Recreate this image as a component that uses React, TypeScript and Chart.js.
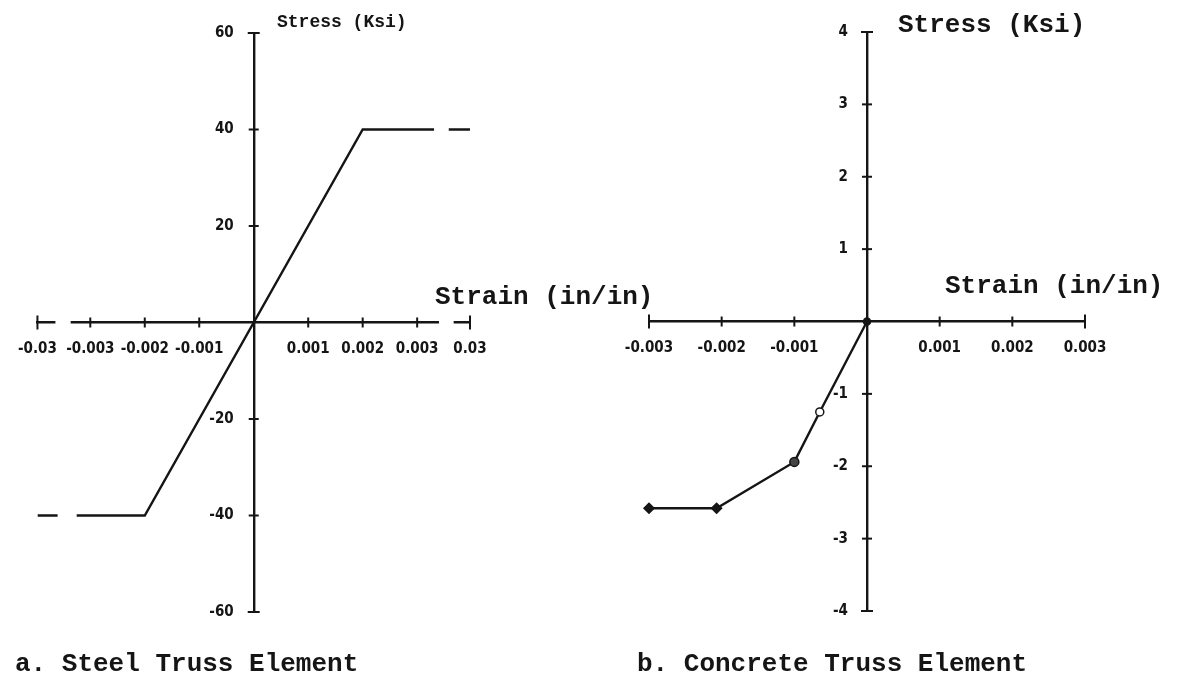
import React, { useEffect, useRef } from "react";
import { Chart, registerables } from "chart.js";
Chart.register(...registerables);

// ---------- Panel a: Steel truss element ----------
const steelStrain = [-0.03, -0.002, 0.002, 0.03];
const steelStress = [-40, -40, 40, 40];
const steelXTicks = [-0.03, -0.003, -0.002, -0.001, 0, 0.001, 0.002, 0.003, 0.03];
const steelXTickLabels = ["-0.03", "-0.003", "-0.002", "-0.001", "", "0.001", "0.002", "0.003", "0.03"];
const steelYTicks = [-60, -40, -20, 0, 20, 40, 60];
const steelYTickLabels = ["-60", "-40", "-20", "", "20", "40", "60"];

// ---------- Panel b: Concrete truss element ----------
const concreteStrain = [-0.003, -0.00207, -0.001, -0.00065, 0];
const concreteStress = [-2.58, -2.58, -1.94, -1.25, 0];
const concreteXTicks = [-0.003, -0.002, -0.001, 0, 0.001, 0.002, 0.003];
const concreteXTickLabels = ["-0.003", "-0.002", "-0.001", "", "0.001", "0.002", "0.003"];
const concreteYTicks = [-4, -3, -2, -1, 0, 1, 2, 3, 4];
const concreteYTickLabels = ["-4", "-3", "-2", "-1", "", "1", "2", "3", "4"];

// broken strain axis of panel a: +-0.03 drawn just beyond +-0.003
const BREAK_POS = 0.00397;
const toAxis = (s: number) => (Math.abs(s) > 0.0035 ? Math.sign(s) * BREAK_POS : s);

const INK = "#151515";
const TICK_FAMILY = '"Liberation Sans Narrow", "DejaVu Sans Condensed", "Liberation Sans", sans-serif';
const TICK_SIZE = 15;
const TICK_FONT = { family: TICK_FAMILY, size: TICK_SIZE, weight: "bold" as const };
const MONO = '"Liberation Mono", "DejaVu Sans Mono", monospace';

const axisDecor = {
  id: "axisDecor",
  afterDraw(chart: any, _args: any, opts: any) {
    const xs = chart.scales.x;
    const ys = chart.scales.y;
    const ctx = chart.ctx;
    const xAxisPx = ys.getPixelForValue(0);
    const yAxisPx = xs.getPixelForValue(0);
    ctx.save();
    ctx.strokeStyle = INK;
    ctx.lineWidth = 2;
    ctx.lineCap = "butt";
    // white gaps for broken axis / broken curve
    ctx.fillStyle = "#ffffff";
    (opts.axisBreaks || []).forEach(([a, b]: number[]) => {
      const p1 = xs.getPixelForValue(a);
      const p2 = xs.getPixelForValue(b);
      ctx.fillRect(p1, xAxisPx - 4, p2 - p1, 8);
    });
    (opts.lineBreaks || []).forEach(([a, b, v]: number[]) => {
      const p1 = xs.getPixelForValue(a);
      const p2 = xs.getPixelForValue(b);
      const py = ys.getPixelForValue(v);
      ctx.fillRect(p1, py - 4, p2 - p1, 8);
    });
    // tick crosses on the strain axis
    const n = xs.ticks.length;
    xs.ticks.forEach((t: any, i: number) => {
      if (t.value === 0) return;
      const px = xs.getPixelForValue(t.value);
      const h = i === 0 || i === n - 1 ? 7 : 5;
      ctx.beginPath();
      ctx.moveTo(px, xAxisPx - h);
      ctx.lineTo(px, xAxisPx + h);
      ctx.stroke();
    });
    // tick crosses and labels on the stress axis
    const m = ys.ticks.length;
    const labels: string[] = opts.yLabels || [];
    ctx.fillStyle = INK;
    ctx.font = `bold ${TICK_SIZE}px ${TICK_FAMILY}`;
    ctx.textAlign = "right";
    ctx.textBaseline = "middle";
    ys.ticks.forEach((t: any, i: number) => {
      if (t.value === 0) return;
      const py = ys.getPixelForValue(t.value);
      const h = i === 0 || i === m - 1 ? 6 : 5;
      ctx.beginPath();
      ctx.moveTo(yAxisPx - h, py);
      ctx.lineTo(yAxisPx + h, py);
      ctx.stroke();
      if (labels[i]) ctx.fillText(labels[i], yAxisPx - (opts.yLabelGap || 18), py);
    });
    ctx.restore();
  },
};

function makeScales(xTicks: number[], xLabels: string[], yTicks: number[], xMap: (v: number) => number) {
  const xs = xTicks.map(xMap);
  return {
    x: {
      type: "linear",
      position: { y: 0 },
      min: xs[0],
      max: xs[xs.length - 1],
      afterBuildTicks: (s: any) => {
        s.ticks = xs.map((v) => ({ value: v }));
      },
      ticks: {
        autoSkip: false,
        maxRotation: 0,
        minRotation: 0,
        color: INK,
        font: TICK_FONT,
        padding: 18,
        callback: (_v: any, i: number) => xLabels[i],
      },
      grid: { display: false, drawTicks: false },
      border: { display: true, color: INK, width: 2.4 },
    },
    y: {
      type: "linear",
      position: { x: 0 },
      min: yTicks[0],
      max: yTicks[yTicks.length - 1],
      afterBuildTicks: (s: any) => {
        s.ticks = yTicks.map((v) => ({ value: v }));
      },
      ticks: { display: false },
      grid: { display: false, drawTicks: false },
      border: { display: true, color: INK, width: 2.4 },
    },
  };
}

function SteelChart() {
  const ref = useRef<HTMLCanvasElement>(null);
  useEffect(() => {
    const chart = new Chart(ref.current as HTMLCanvasElement, {
      type: "scatter",
      data: {
        datasets: [
          {
            data: steelStrain.map((s, i) => ({ x: toAxis(s), y: steelStress[i] })),
            showLine: true,
            borderColor: INK,
            borderWidth: 2.4,
            pointRadius: 0,
            tension: 0,
          },
        ],
      },
      options: {
        responsive: false,
        animation: false,
        devicePixelRatio: 1,
        layout: { padding: { left: 32, right: 130, top: 33, bottom: 69 } },
        plugins: {
          legend: { display: false },
          tooltip: { enabled: false },
          axisDecor: {
            yLabels: steelYTickLabels,
            yLabelGap: 20,
            axisBreaks: [[-0.00364, -0.00336], [0.0034, 0.00367]],
            lineBreaks: [[-0.0036, -0.00325, -40], [0.00331, 0.00358, 40]],
          },
        },
        scales: makeScales(steelXTicks, steelXTickLabels, steelYTicks, toAxis) as any,
      } as any,
      plugins: [axisDecor],
    });
    return () => chart.destroy();
  }, []);
  return <canvas ref={ref} width={600} height={681} style={{ position: "absolute", left: 0, top: 0, width: 600, height: 681 }} />;
}

function ConcreteChart() {
  const ref = useRef<HTMLCanvasElement>(null);
  useEffect(() => {
    const chart = new Chart(ref.current as HTMLCanvasElement, {
      type: "scatter",
      data: {
        datasets: [
          {
            data: concreteStrain.map((s, i) => ({ x: s, y: concreteStress[i] })),
            showLine: true,
            clip: false,
            borderColor: INK,
            borderWidth: 2.4,
            tension: 0,
            pointStyle: ["rectRot", "rectRot", "circle", "circle", "circle"],
            pointRadius: [5, 5, 4.5, 4, 3.5],
            pointBorderWidth: 1.5,
            pointBorderColor: INK,
            pointBackgroundColor: [INK, INK, "#444", "#ffffff", INK],
          },
        ],
      },
      options: {
        responsive: false,
        animation: false,
        devicePixelRatio: 1,
        layout: { padding: { left: 49, right: 93, top: 32, bottom: 70 } },
        plugins: {
          legend: { display: false },
          tooltip: { enabled: false },
          axisDecor: { yLabels: concreteYTickLabels, yLabelGap: 19 },
        },
        scales: makeScales(concreteXTicks, concreteXTickLabels, concreteYTicks, (v) => v) as any,
      } as any,
      plugins: [axisDecor],
    });
    return () => chart.destroy();
  }, []);
  return <canvas ref={ref} width={578} height={681} style={{ position: "absolute", left: 600, top: 0, width: 578, height: 681 }} />;
}

const textStyle = (left: number, top: number, size: number): React.CSSProperties => ({
  position: "absolute",
  left,
  top,
  fontFamily: MONO,
  fontWeight: "bold",
  fontSize: size,
  lineHeight: `${size}px`,
  color: INK,
  whiteSpace: "pre",
});

export default function App() {
  return (
    <div style={{ position: "fixed", left: 0, top: 0, width: 1178, height: 681, background: "#fff", overflow: "hidden" }}>
      <SteelChart />
      <ConcreteChart />
      <div style={textStyle(277, 13, 18)}>Stress (Ksi)</div>
      <div style={textStyle(435, 284, 26)}>Strain (in/in)</div>
      <div style={textStyle(898, 12, 26)}>Stress (Ksi)</div>
      <div style={textStyle(945, 273, 26)}>Strain (in/in)</div>
      <div style={textStyle(15, 651, 26)}>a. Steel Truss Element</div>
      <div style={textStyle(637, 651, 26)}>b. Concrete Truss Element</div>
    </div>
  );
}
